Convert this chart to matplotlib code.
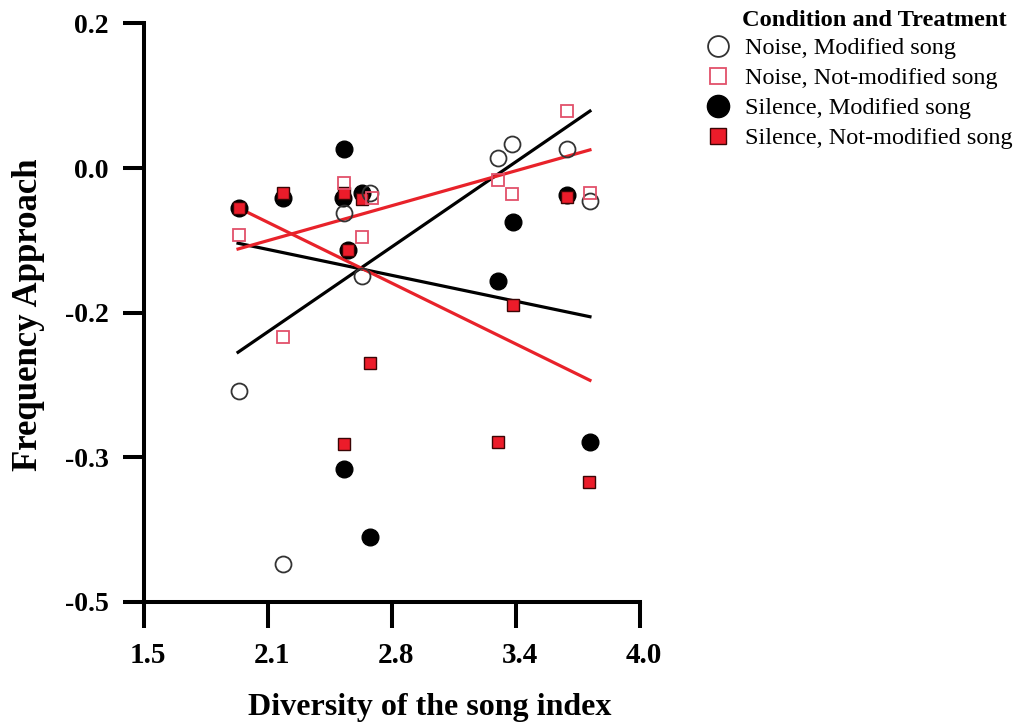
import matplotlib
matplotlib.use("Agg")
import matplotlib.pyplot as plt
from matplotlib.lines import Line2D
from matplotlib.transforms import ScaledTranslation

plt.rcParams['font.family'] = ['Liberation Serif', 'DejaVu Serif']

# ---- data ----
noise_mod_x = [1.98, 2.20, 2.51, 2.60, 2.64, 3.285, 3.355, 3.63, 3.75]
noise_mod_y = [-0.270, -0.479, -0.054, -0.131, -0.030, 0.012, 0.029, 0.023, -0.040]

noise_notmod_x = [1.98, 2.20, 2.51, 2.60, 2.65, 3.285, 3.355, 3.63, 3.75]
noise_notmod_y = [-0.081, -0.205, -0.018, -0.083, -0.036, -0.014, -0.031, 0.069, -0.030]

silence_mod_x = [1.98, 2.20, 2.51, 2.505, 2.53, 2.60, 2.64, 2.51, 3.285, 3.36, 3.63, 3.75]
silence_mod_y = [-0.048, -0.036, 0.023, -0.036, -0.099, -0.030, -0.447, -0.364, -0.137, -0.065, -0.033, -0.332]

silence_notmod_x = [1.98, 2.20, 2.51, 2.53, 2.60, 2.64, 2.51, 3.285, 3.36, 3.63, 3.745]
silence_notmod_y = [-0.048, -0.030, -0.030, -0.099, -0.037, -0.236, -0.334, -0.332, -0.166, -0.035, -0.380]

# fitted lines (end points)
fit_x = [1.976, 3.748]
fit_noise_mod_y = [-0.223, 0.069]
fit_silence_mod_y = [-0.091, -0.180]
fit_noise_notmod_y = [-0.098, 0.022]
fit_silence_notmod_y = [-0.048, -0.257]

x_ticks = [1.5, 2.125, 2.75, 3.375, 4.0]
x_tick_labels = ['1.5', '2.1', '2.8', '3.4', '4.0']
y_ticks = [0.175, 0.0, -0.175, -0.35, -0.525]
y_tick_labels = ['0.2', '0.0', '-0.2', '-0.3', '-0.5']

legend_title = 'Condition and Treatment'
legend_labels = ['Noise, Modified song', 'Noise, Not-modified song',
                 'Silence, Modified song', 'Silence, Not-modified song']

# ---- styles ----
RED = '#e8222a'
RED_FILL = '#ec1c2a'
PINK_EDGE = '#e2506a'
GREY_EDGE = '#333333'

W, H = 1021, 728
fig = plt.figure(figsize=(W / 100, H / 100), dpi=100)
ax = fig.add_axes([143.5 / W, (H - 601.7) / H, (640 - 143.5) / W, (601.7 - 23.5) / H])

ax.set_xlim(1.5, 4.0)
ax.set_ylim(-0.525, 0.175)

# regression lines
ax.plot(fit_x, fit_noise_mod_y, color='black', lw=2.3, zorder=2)
ax.plot(fit_x, fit_silence_mod_y, color='black', lw=2.3, zorder=2)
ax.plot(fit_x, fit_noise_notmod_y, color=RED, lw=2.3, zorder=2)
ax.plot(fit_x, fit_silence_notmod_y, color=RED, lw=2.3, zorder=2)

# points
ax.plot(silence_mod_x, silence_mod_y, 'o', ms=12, mfc='black', mec='black', zorder=3)
ax.plot(silence_notmod_x, silence_notmod_y, 's', ms=8.5, mfc=RED_FILL, mec='#3a0505', mew=1.0, zorder=4)
ax.plot(noise_mod_x, noise_mod_y, 'o', ms=11.5, mfc='none', mec=GREY_EDGE, mew=1.3, zorder=5)
ax.plot(noise_notmod_x, noise_notmod_y, 's', ms=8.5, mfc='none', mec=PINK_EDGE, mew=1.3, zorder=5)

# axes styling
for s in ['top', 'right']:
    ax.spines[s].set_visible(False)
for s in ['left', 'bottom']:
    ax.spines[s].set_linewidth(2.9)
ax.tick_params(axis='x', length=19, width=2.9, pad=10, labelsize=21)
ax.tick_params(axis='y', length=15, width=2.9, pad=10, labelsize=20)
ax.set_xticks(x_ticks)
ax.set_xticklabels(x_tick_labels, fontweight='bold')
ax.set_yticks(y_ticks)
ax.set_yticklabels(y_tick_labels, fontweight='bold')
shift = ScaledTranslation(4 / 100, 0, fig.dpi_scale_trans)
for lab in ax.get_xticklabels():
    lab.set_transform(lab.get_transform() + shift)

ax.set_xlabel('Diversity of the song index', fontsize=23, fontweight='bold')
ax.xaxis.set_label_coords(0.577, -0.158)
ax.set_ylabel('Frequency Approach', fontsize=25, fontweight='bold')
ax.yaxis.set_label_coords(-0.198, 0.496)

# legend
handles = [
    Line2D([], [], ls='none', marker='o', ms=15, mfc='none', mec=GREY_EDGE, mew=1.3),
    Line2D([], [], ls='none', marker='s', ms=11, mfc='none', mec=PINK_EDGE, mew=1.3),
    Line2D([], [], ls='none', marker='o', ms=16, mfc='black', mec='black'),
    Line2D([], [], ls='none', marker='s', ms=11, mfc=RED_FILL, mec='#3a0505', mew=1.0),
]
fig.legend(handles, legend_labels, loc='upper left',
           bbox_to_anchor=(706 / W, 1 - 37 / H), bbox_transform=fig.transFigure,
           frameon=False, fontsize=17.5, handlelength=1.0, handletextpad=0.6,
           labelspacing=0.33, borderpad=0, borderaxespad=0)
fig.text(742 / W, 1 - 21 / H, legend_title, fontsize=17.6, fontweight='bold',
         ha='left', va='center')

fig.savefig('out.png', dpi=100, facecolor='white')
